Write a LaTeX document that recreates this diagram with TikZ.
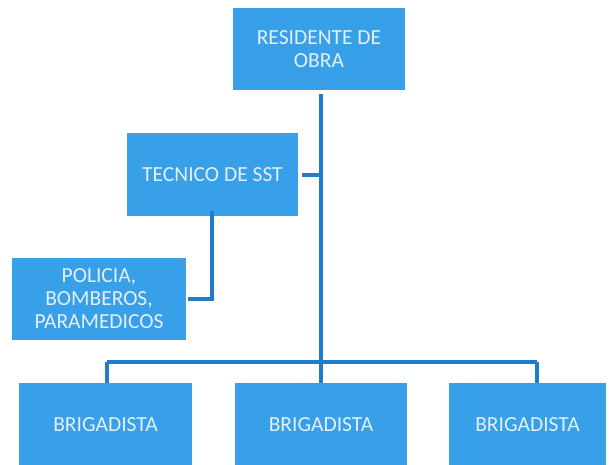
\documentclass[tikz,border=0pt]{standalone}
\usepackage{fontspec}
\setmainfont{Carlito}
\definecolor{boxblue}{RGB}{55,160,232}
\definecolor{lineblue}{RGB}{30,125,205}
\definecolor{txt}{RGB}{228,238,248}
\begin{document}
\begin{tikzpicture}[x=1pt,y=-1pt,
  box/.style={draw=none,fill=boxblue,text=txt,align=center,inner sep=0pt,
    font=\fontsize{21.5}{23}\selectfont},
  link/.style={draw=lineblue,line width=3.2pt}]
\useasboundingbox (0,0) rectangle (611,464);
\node[box,minimum width=172pt,minimum height=82pt] (res) at (319,49) {RESIDENTE DE\\OBRA};
\node[box,minimum width=171pt,minimum height=83pt] (tec) at (212.5,174.5) {TECNICO DE SST};
\node[box,minimum width=174pt,minimum height=82pt] (pol) at (99,299) {POLICIA,\\BOMBEROS,\\PARAMEDICOS};
\node[box,minimum width=173pt,minimum height=83pt] (b1) at (105.5,424.5) {BRIGADISTA};
\node[box,minimum width=172pt,minimum height=83pt] (b2) at (321,424.5) {BRIGADISTA};
\node[box,minimum width=157pt,minimum height=83pt] (b3) at (527.5,424.5) {BRIGADISTA};
\coordinate (bar) at (321,362);
\coordinate (j1) at (107,362);
\coordinate (j3) at (537,362);
\coordinate (t1) at (321,175);
\coordinate (p1) at (212,299);
\draw[link] ([yshift=-4pt]res.south -| bar) -- (bar) -- (b2.north -| bar);
\draw[link] ([xshift=4pt]tec.east |- t1) -- (t1);
\draw[link] (j1) -- (j3);
\draw[link] (j1) -- (b1.north -| j1);
\draw[link] (j3) -- (b3.north -| j3);
\draw[link] ([yshift=5pt]tec.south -| p1) -- (p1) -- ([xshift=2pt]pol.east |- p1);
\end{tikzpicture}
\end{document}
